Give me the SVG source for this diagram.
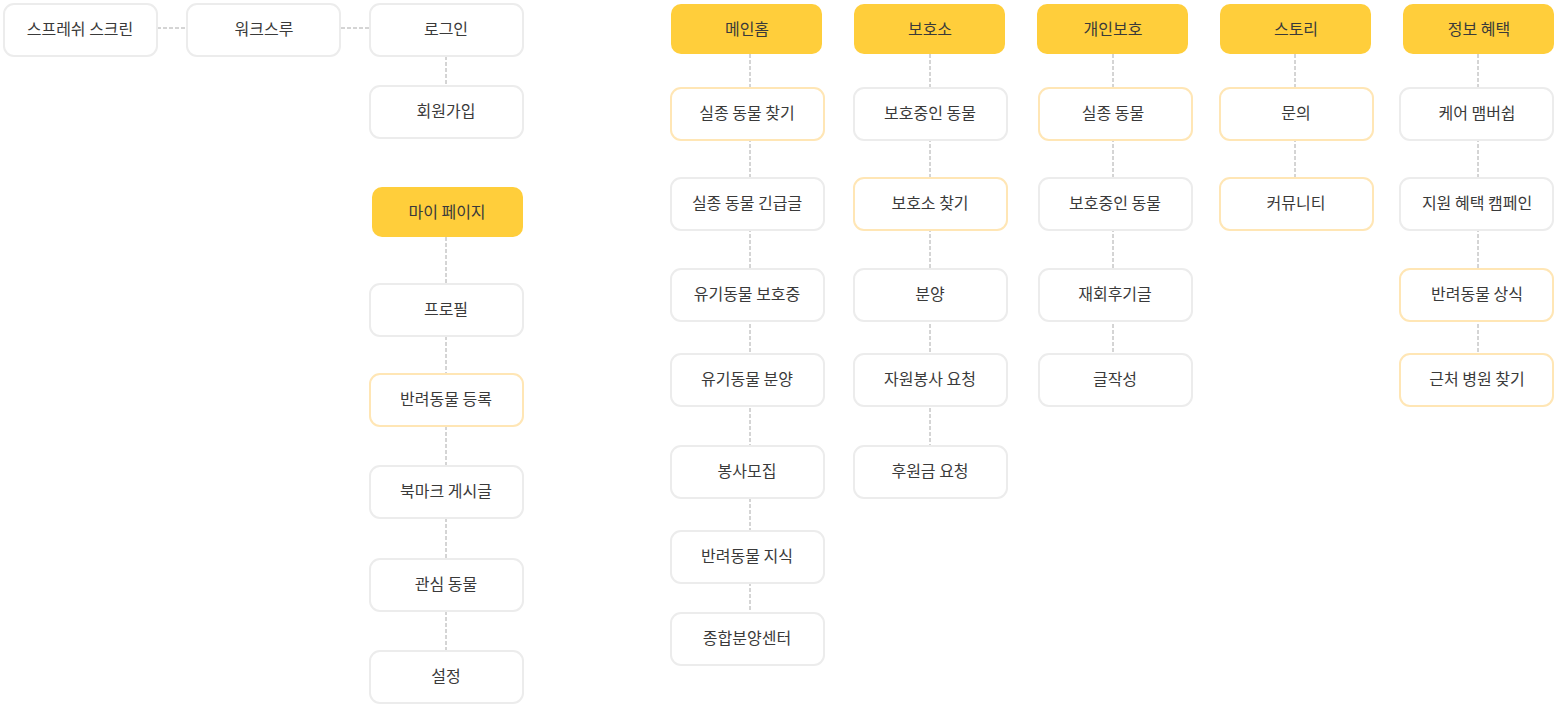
<svg xmlns="http://www.w3.org/2000/svg" width="1557" height="706" viewBox="0 0 1557 706">
<style>
.n rect{fill:#fff;stroke:#ececec;stroke-width:2}
.n.o rect{stroke:#ffe6b5}
.n.y rect{fill:#ffce3b;stroke:none}
text{font-family:"Noto Sans CJK KR","Noto Sans",sans-serif;font-size:16px;fill:#3a3a3a;text-anchor:middle;font-weight:400}
.c line{stroke:#aaa;stroke-width:1;stroke-dasharray:4 2}
</style>
<rect width="1557" height="706" fill="#fff"/>
<g class="c" id="connectors">
<line x1="157" y1="28" x2="186" y2="28"/>
<line x1="341" y1="28" x2="369" y2="28"/>
<line x1="446" y1="56" x2="446" y2="85"/>
<line x1="446" y1="237" x2="446" y2="283"/>
<line x1="446" y1="336" x2="446" y2="373"/>
<line x1="446" y1="426" x2="446" y2="465"/>
<line x1="446" y1="518" x2="446" y2="558"/>
<line x1="446" y1="611" x2="446" y2="650"/>
<line x1="750" y1="54" x2="750" y2="612"/>
<line x1="930" y1="54" x2="930" y2="445"/>
<line x1="1113" y1="54" x2="1113" y2="353"/>
<line x1="1295" y1="54" x2="1295" y2="177"/>
<line x1="1478" y1="54" x2="1478" y2="353"/>
</g>
<g id="splash" class="n"><rect x="4" y="4" width="153" height="52" rx="10"/><text x="80" y="35">스프레쉬 스크린</text></g>
<g id="walk" class="n"><rect x="187" y="4" width="153" height="52" rx="10"/><text x="264" y="35">워크스루</text></g>
<g id="login" class="n"><rect x="370" y="4" width="153" height="52" rx="10"/><text x="446" y="35">로그인</text></g>
<g id="signup" class="n"><rect x="370" y="86" width="153" height="52" rx="10"/><text x="446" y="117">회원가입</text></g>
<g id="mypage" class="n y"><rect x="372" y="187" width="151" height="50" rx="10"/><text x="447" y="218">마이 페이지</text></g>
<g id="profile" class="n"><rect x="370" y="284" width="153" height="52" rx="10"/><text x="446" y="315">프로필</text></g>
<g id="petreg" class="n o"><rect x="370" y="374" width="153" height="52" rx="10"/><text x="446" y="405">반려동물 등록</text></g>
<g id="bookmark" class="n"><rect x="370" y="466" width="153" height="52" rx="10"/><text x="446" y="497">북마크 게시글</text></g>
<g id="interest" class="n"><rect x="370" y="559" width="153" height="52" rx="10"/><text x="446" y="590">관심 동물</text></g>
<g id="settings" class="n"><rect x="370" y="651" width="153" height="52" rx="10"/><text x="446" y="682">설정</text></g>

<g id="mainhome" class="n y"><rect x="671" y="4" width="151" height="50" rx="10"/><text x="747" y="35">메인홈</text></g>
<g id="m1" class="n o"><rect x="671" y="88" width="153" height="52" rx="10"/><text x="747" y="119">실종 동물 찾기</text></g>
<g id="m2" class="n"><rect x="671" y="178" width="153" height="52" rx="10"/><text x="747" y="209">실종 동물 긴급글</text></g>
<g id="m3" class="n"><rect x="671" y="269" width="153" height="52" rx="10"/><text x="747" y="300">유기동물 보호중</text></g>
<g id="m4" class="n"><rect x="671" y="354" width="153" height="52" rx="10"/><text x="747" y="385">유기동물 분양</text></g>
<g id="m5" class="n"><rect x="671" y="446" width="153" height="52" rx="10"/><text x="747" y="477">봉사모집</text></g>
<g id="m6" class="n"><rect x="671" y="531" width="153" height="52" rx="10"/><text x="747" y="562">반려동물 지식</text></g>
<g id="m7" class="n"><rect x="671" y="613" width="153" height="52" rx="10"/><text x="747" y="644">종합분양센터</text></g>

<g id="shelter" class="n y"><rect x="854" y="4" width="151" height="50" rx="10"/><text x="930" y="35">보호소</text></g>
<g id="s1" class="n"><rect x="854" y="88" width="153" height="52" rx="10"/><text x="930" y="119">보호중인 동물</text></g>
<g id="s2" class="n o"><rect x="854" y="178" width="153" height="52" rx="10"/><text x="930" y="209">보호소 찾기</text></g>
<g id="s3" class="n"><rect x="854" y="269" width="153" height="52" rx="10"/><text x="930" y="300">분양</text></g>
<g id="s4" class="n"><rect x="854" y="354" width="153" height="52" rx="10"/><text x="930" y="385">자원봉사 요청</text></g>
<g id="s5" class="n"><rect x="854" y="446" width="153" height="52" rx="10"/><text x="930" y="477">후원금 요청</text></g>

<g id="personal" class="n y"><rect x="1037" y="4" width="151" height="50" rx="10"/><text x="1113" y="35">개인보호</text></g>
<g id="p1" class="n o"><rect x="1039" y="88" width="153" height="52" rx="10"/><text x="1113" y="119">실종 동물</text></g>
<g id="p2" class="n"><rect x="1039" y="178" width="153" height="52" rx="10"/><text x="1115" y="209">보호중인 동물</text></g>
<g id="p3" class="n"><rect x="1039" y="269" width="153" height="52" rx="10"/><text x="1115" y="300">재회후기글</text></g>
<g id="p4" class="n"><rect x="1039" y="354" width="153" height="52" rx="10"/><text x="1115" y="385">글작성</text></g>

<g id="story" class="n y"><rect x="1220" y="4" width="151" height="50" rx="10"/><text x="1296" y="35">스토리</text></g>
<g id="t1" class="n o"><rect x="1220" y="88" width="153" height="52" rx="10"/><text x="1296" y="119">문의</text></g>
<g id="t2" class="n o"><rect x="1220" y="178" width="153" height="52" rx="10"/><text x="1296" y="209">커뮤니티</text></g>

<g id="info" class="n y"><rect x="1403" y="4" width="151" height="50" rx="10"/><text x="1479" y="35">정보 혜택</text></g>
<g id="i1" class="n"><rect x="1400" y="88" width="153" height="52" rx="10"/><text x="1477" y="119">케어 맴버쉽</text></g>
<g id="i2" class="n"><rect x="1400" y="178" width="153" height="52" rx="10"/><text x="1477" y="209">지원 혜택 캠페인</text></g>
<g id="i3" class="n o"><rect x="1400" y="269" width="153" height="52" rx="10"/><text x="1477" y="300">반려동물 상식</text></g>
<g id="i4" class="n o"><rect x="1400" y="354" width="153" height="52" rx="10"/><text x="1477" y="385">근처 병원 찾기</text></g>
</svg>
